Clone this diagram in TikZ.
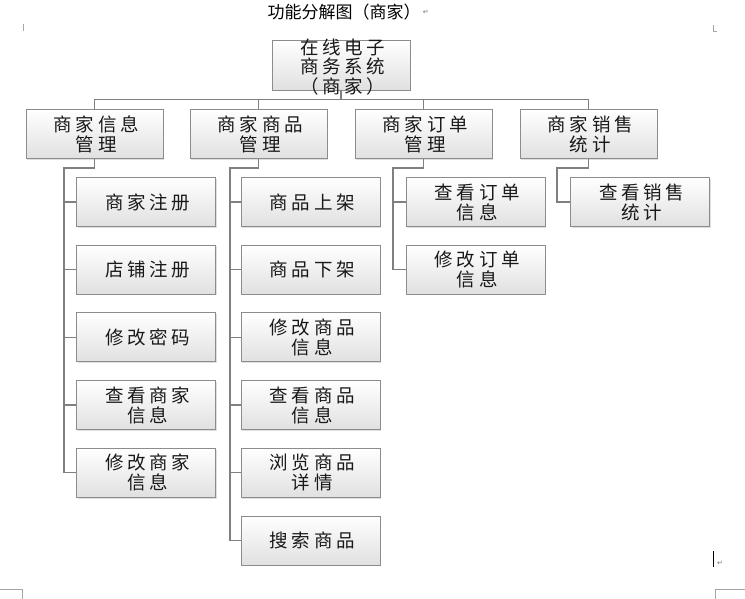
\documentclass[tikz,border=0pt]{standalone}
\usepackage{fontspec}
\usetikzlibrary{shadows}
\newfontfamily\cjkbox[LetterSpace=20]{Noto Sans CJK SC}
\newfontfamily\cjktitle{Noto Sans CJK SC}
\newfontfamily\symfont{DejaVu Sans}
\tikzset{
  box/.style={draw=black!45, line width=0.9pt, top color=white, bottom color=black!12,
    minimum width=#1, minimum height=49pt, inner sep=0pt,
    drop shadow={shadow xshift=1.2pt, shadow yshift=-1.2pt, opacity=0.25}},
  box/.default=139pt,
  lbl/.style={align=center, inner sep=0pt, font=\cjkbox\fontsize{18.5}{20}\selectfont, text=black!90, xshift=1.8pt},
  conn/.style={draw=black!50, line width=1.3pt},
  pagemark/.style={draw=black!35, line width=0.6pt},
}
\newcommand\bx[4][139pt]{\node[box=#1] (#2) at (#3) {};\node[lbl] (#2t) at (#2.center) {#4};}
\begin{document}
\begin{tikzpicture}[x=1pt,y=-1pt]
\useasboundingbox (0,0) rectangle (745,599);
% page marks
\node[font=\cjktitle\fontsize{17}{18}\selectfont, inner sep=0pt] (title) at (344,12) {功能分解图（商家）};
\node[font=\symfont\fontsize{7}{8}\selectfont, text=black!55, inner sep=0pt, anchor=west] (pm1) at ([xshift=2pt]title.east) {↵};
\coordinate (tl1) at (23,24); \coordinate (tl2) at (23,31);
\draw[pagemark] (tl1) -- (tl2);
\coordinate (tr1) at (713,25); \coordinate (tr2) at (713,31); \coordinate (tr3) at (717,31);
\draw[pagemark] (tr1) -- (tr2) -- (tr3);
\coordinate (bl1) at (0,589); \coordinate (bl2) at (22,589); \coordinate (bl3) at (22,599);
\draw[pagemark] (bl1) -- (bl2) -- (bl3);
\coordinate (br1) at (745,589); \coordinate (br2) at (715,589); \coordinate (br3) at (715,599);
\draw[pagemark] (br1) -- (br2) -- (br3);
\coordinate (cur1) at (713,551); \coordinate (cur2) at (713,567);
\draw[black, line width=1pt] (cur1) -- (cur2);
\node[font=\symfont\fontsize{7}{8}\selectfont, text=black!55, inner sep=0pt] (pm2) at (720,563) {↵};
% root
\node[box=138pt, minimum height=50pt] (root) at (341,65) {};
\node[lbl, font=\cjkbox\fontsize{18.5}{19.5}\selectfont] (roott) at (341,67) {在线电子\\商务系统\\（商家）};
% level 1
\bx[137pt]{a}{94.5,134}{商家信息\\管理}
\bx[137pt]{b}{258.5,134}{商家商品\\管理}
\bx[137pt]{c}{423.5,134}{商家订单\\管理}
\bx[137pt]{d}{588.5,134}{商家销售\\统计}
% bus
\coordinate (busL) at (94.5,99.5);
\coordinate (busR) at (588.5,99.5);
\draw[conn] (busL) -- (busR);
\draw[conn] (root.south) -- (root.south |- busL);
\foreach \n in {a,b,c,d} {\draw[conn] (\n.north) -- (\n.north |- busL);}
% column a
\bx{a1}{146,202}{商家注册}
\bx{a2}{146,269.7}{店铺注册}
\bx{a3}{146,337.4}{修改密码}
\bx{a4}{146,405.1}{查看商家\\信息}
\bx{a5}{146,472.8}{修改商家\\信息}
% column b
\bx{b1}{310.5,202}{商品上架}
\bx{b2}{310.5,269.7}{商品下架}
\bx{b3}{310.5,337.4}{修改商品\\信息}
\bx{b4}{310.5,405.1}{查看商品\\信息}
\bx{b5}{310.5,472.8}{浏览商品\\详情}
\bx{b6}{310.5,540.5}{搜索商品}
% column c
\bx{c1}{475.5,202}{查看订单\\信息}
\bx{c2}{475.5,269.7}{修改订单\\信息}
% column d
\bx{d1}{640,202}{查看销售\\统计}
% connectors
\coordinate (va) at (64,168);
\coordinate (vb) at (230,168);
\coordinate (vc) at (393,168);
\coordinate (vd) at (557,168);
\draw[conn] (a.south) -- (a.south |- va) -- (va) -- (va |- a5.west);
\foreach \k in {1,...,5} {\draw[conn] (va |- a\k.west) -- (a\k.west);}
\draw[conn] (b.south) -- (b.south |- vb) -- (vb) -- (vb |- b6.west);
\foreach \k in {1,...,6} {\draw[conn] (vb |- b\k.west) -- (b\k.west);}
\draw[conn] (c.south) -- (c.south |- vc) -- (vc) -- (vc |- c2.west);
\foreach \k in {1,2} {\draw[conn] (vc |- c\k.west) -- (c\k.west);}
\draw[conn] (d.south) -- (d.south |- vd) -- (vd) -- (vd |- d1.west) -- (d1.west);
\end{tikzpicture}
\end{document}
